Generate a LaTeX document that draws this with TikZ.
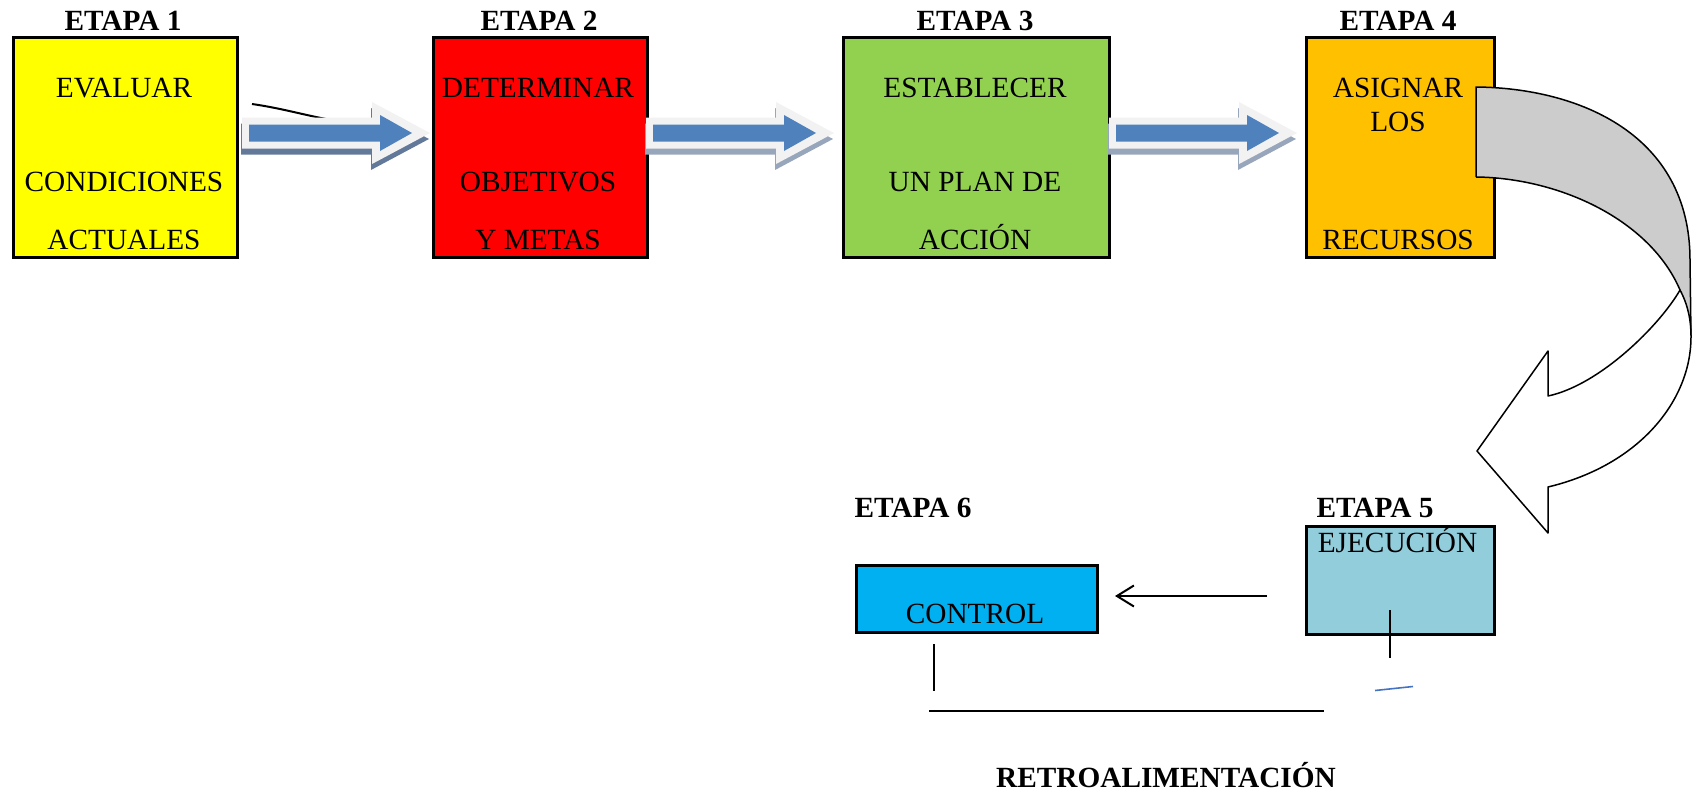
\documentclass[tikz,border=0pt]{standalone}
\usepackage{fontspec}
\setmainfont{Liberation Serif}
\usetikzlibrary{arrows.meta,calc}
\definecolor{yel}{HTML}{FFFF00}
\definecolor{redb}{HTML}{FF0000}
\definecolor{grn}{HTML}{92D050}
\definecolor{orng}{HTML}{FFC000}
\definecolor{ltblue}{HTML}{92CDDC}
\definecolor{cyanb}{HTML}{00B0F0}
\definecolor{arrblue}{HTML}{4F81BD}
\definecolor{glowc}{HTML}{F2F2F2}
\definecolor{shadA}{HTML}{63799A}
\definecolor{shadB}{HTML}{97A6BB}
\definecolor{backgrey}{HTML}{CCCCCC}
\definecolor{tickblue}{HTML}{4472C4}
\tikzset{
  blockarr/.pic={
    \fill[#1] (-1,-9.5) -- (129,-9.5) -- (129,-25) -- (187,6) -- (129,37) -- (129,21.5) -- (-1,21.5) -- cycle;
    \fill[glowc] (0,-15.5) -- (130,-15.5) -- (130,-31) -- (188,0) -- (130,31) -- (130,15.5) -- (0,15.5) -- cycle;
    \fill[arrblue] (7,-8.5) -- (138,-8.5) -- (138,-18) -- (170,0) -- (138,18) -- (138,8.5) -- (7,8.5) -- cycle;
  }
}
\begin{document}
\begin{tikzpicture}[x=1pt,y=-1pt,
  box/.style={draw=black, line width=3pt, inner sep=0pt, outer sep=0pt},
  txt/.style={font=\fontsize{29.3}{34}\selectfont, inner sep=0pt, anchor=base},
  lab/.style={font=\fontsize{29.3}{34}\selectfont\bfseries, inner sep=0pt, anchor=base},
  thin/.style={draw=black, line width=1.6pt},
  ribbon/.style={draw=black, line width=1.5pt, line join=round}]
\useasboundingbox (0,0) rectangle (1695,795);

% boxes
\node[box, fill=yel, minimum width=224pt, minimum height=220pt] (b1) at (125,147.5) {};
\node[box, fill=redb, minimum width=213.5pt, minimum height=220pt] (b2) at (540.25,147.5) {};
\node[box, fill=grn, minimum width=266pt, minimum height=220pt] (b3) at (976.5,147.5) {};
\node[box, fill=orng, minimum width=188pt, minimum height=220pt] (b4) at (1400,147.5) {};
\node[box, fill=ltblue, minimum width=188pt, minimum height=108pt] (b5) at (1400,580) {};
\node[box, fill=cyanb, minimum width=241pt, minimum height=66.5pt] (b6) at (976.5,598.75) {};

% stage labels
\node[lab] (e1) at (123,30.5) {ETAPA 1};
\node[lab] (e2) at (539,30.5) {ETAPA 2};
\node[lab] (e3) at (975,30.5) {ETAPA 3};
\node[lab] (e4) at (1398,30.5) {ETAPA 4};
\node[lab] (e5) at (1375,517.5) {ETAPA 5};
\node[lab] (e6) at (913,517.5) {ETAPA 6};

% box texts
\node[txt] (t1a) at (124,97.5) {EVALUAR};
\node[txt] (t1b) at (124,191.5) {CONDICIONES};
\node[txt] (t1c) at (124,249.5) {ACTUALES};
\node[txt] (t2a) at (538,97.5) {DETERMINAR};
\node[txt] (t2b) at (538,191.5) {OBJETIVOS};
\node[txt] (t2c) at (538,249.5) {Y METAS};
\node[txt] (t3a) at (975,97.5) {ESTABLECER};
\node[txt] (t3b) at (975,191.5) {UN PLAN DE};
\node[txt] (t3c) at (975,249.5) {ACCIÓN};
\node[txt] (t4a) at (1398,97.5) {ASIGNAR};
\node[txt] (t4b) at (1398,131.5) {LOS};
\node[txt] (t4c) at (1398,249.5) {RECURSOS};
\node[txt] (t5) at (1397.5,552.5) {EJECUCIÓN};
\node[txt] (t6) at (975,623.5) {CONTROL};
\node[lab] (retro) at (1166,787.5) {RETROALIMENTACIÓN};

% stray line near first arrow
\coordinate (s1) at (252,104);
\coordinate (s2) at (326,119);
\draw[line width=2pt] (s1) .. controls (280,108) and (300,114) .. (s2);

% block arrows between the top boxes
\coordinate (ay) at (0,133);
\pic at ($(b1.east |- ay)+(5,0)$) {blockarr=shadA};
\pic at ($(b2.east |- ay)+(-1,0)$) {blockarr=shadB};
\pic at ($(b3.east |- ay)+(-0.5,0)$) {blockarr=shadB};

% curved arrow from stage 4 to stage 5
\coordinate (K) at (1680,290);
\coordinate (M) at (1691,337);
\coordinate (N1) at (1548,396);
\coordinate (H1) at (1548,351);
\coordinate (T) at (1477,451);
\coordinate (H2) at (1548,533);
\coordinate (N2) at (1548,487);
\fill[backgrey] (1476,87) .. controls (1580,88) and (1690,135) .. (1690,260) -- (M)
  .. controls (1691,320) and (1688,305) .. (K)
  .. controls (1650,220) and (1560,178) .. (1476,177) -- cycle;
\draw[ribbon] (1476,177) -- (1476,87) .. controls (1580,88) and (1690,135) .. (1690,260) -- (M);
\draw[ribbon] (1476,177) .. controls (1560,178) and (1650,220) .. (K);
\filldraw[ribbon, fill=white] (K) .. controls (1660,325) and (1600,385) .. (N1) -- (H1) -- (T) -- (H2) -- (N2)
  .. controls (1640,465) and (1691,400) .. (M) .. controls (1691,320) and (1688,305) .. (K) -- cycle;

% arrow from stage 5 to stage 6
\coordinate (ay2) at (0,596);
\draw[line width=2pt, -{Straight Barb[length=17pt,width=21pt,line width=2pt]}, shorten <=39pt, shorten >=18pt]
  (b5.west |- ay2) -- (b6.east |- ay2);

% feedback lines
\coordinate (f1) at (1390,610);
\coordinate (f2) at (1390,658);
\coordinate (g1) at (934,644);
\coordinate (g2) at (934,691);
\coordinate (h1) at (929,711);
\coordinate (h2) at (1324,711);
\coordinate (k1) at (1375,690.5);
\coordinate (k2) at (1413,686.5);
\draw[thin] (f1) -- (f2);
\draw[thin] (g1) -- (g2);
\draw[thin] (h1) -- (h2);
\draw[draw=tickblue, line width=1.6pt] (k1) -- (k2);
\end{tikzpicture}
\end{document}
